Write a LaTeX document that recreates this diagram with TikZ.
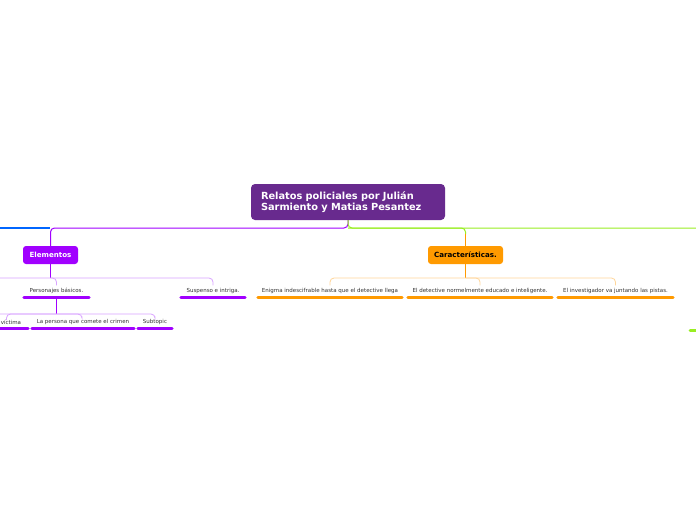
\documentclass[tikz,border=0pt]{standalone}
\usepackage{fontspec}
\setmainfont{DejaVu Sans}
\definecolor{cmain}{HTML}{682A8E}
\definecolor{cpurp}{HTML}{A100FF}
\definecolor{corange}{HTML}{FF9A00}
\definecolor{cgreen}{HTML}{99EE22}
\definecolor{cblue}{HTML}{0066FF}
\definecolor{clpurp}{HTML}{D9A3FF}
\definecolor{clorange}{HTML}{FFD699}
\definecolor{ctext}{HTML}{333333}
\begin{document}
\begin{tikzpicture}[x=1pt,y=1pt,
  topic/.style={rectangle,rounded corners=3pt,inner sep=0pt,font=\bfseries\fontsize{7.1}{8}\selectfont},
  leaf/.style={inner sep=0pt,minimum height=7pt,font=\fontsize{5.5}{6.5}\selectfont,text=ctext},
  ulp/.style={line width=3pt,line cap=round,cpurp},
  ulo/.style={line width=3pt,line cap=round,corange},
  link/.style={line width=1pt,rounded corners=4pt},
  sublink/.style={line width=0.8pt,rounded corners=4pt}]
\useasboundingbox (0,0) rectangle (696,-520);
\clip (0,0) rectangle (696,-520);
\fill[white] (0,0) rectangle (696,-520);
% central
\node[rectangle,rounded corners=4pt,fill=cmain,text=white,minimum width=194pt,minimum height=36pt,inner xsep=10pt,align=left,anchor=center,
  font=\bfseries\fontsize{9.8}{11}\selectfont,text width=174pt] (root) at (348,-202) {Relatos policiales por Julián\\Sarmiento y Matias Pesantez};
\node[topic,fill=cpurp,text=white,minimum width=55pt,minimum height=18pt] (elem) at (50.5,-255) {Elementos};
\node[topic,fill=corange,text=black,minimum width=75pt,minimum height=18pt] (car) at (465.5,-255) {Características.};
% coordinates
\coordinate (rl) at (348,-228);
\coordinate (bl0) at (-10,-228);
\coordinate (bl1) at (50,-228);
\coordinate (gr) at (710,-228);
\draw[line width=1.1pt,cblue] (bl0) -- (bl1);
\draw[link,cpurp] (root.south) |- (elem.north |- rl) -- (elem.north);
\draw[link,cgreen] (root.south) |- (gr);
\draw[link,cgreen] (rl) -| ([yshift=-6pt]car.north |- rl);
\draw[line width=1pt,corange] ([yshift=-6pt]car.north |- rl) -- (car.north);
% leaves of Elementos
\node[leaf,minimum width=65pt] (pers) at (56.5,-291) {Personajes básicos.};
\node[leaf,minimum width=64pt] (susp) at (213,-291) {Suspenso e intriga.};
\draw[ulp] ([yshift=-2.5pt]pers.south west) -- ([yshift=-2.5pt]pers.south east);
\draw[ulp] ([yshift=-2.5pt]susp.south west) -- ([yshift=-2.5pt]susp.south east);
\coordinate (e1) at (50.5,-278);
\coordinate (e0) at (-10,-278);
\draw[line width=1pt,cpurp] (elem.south) -- (e1);
\draw[sublink,clpurp] (e0) -- (e1) -| ([yshift=2pt]susp.north);
\draw[sublink,clpurp] (e1) -| ([yshift=2pt]pers.north);
% leaves of Personajes
\node[leaf,minimum width=34pt] (vic) at (11,-322) {víctima};
\node[leaf,minimum width=102pt] (crim) at (83,-322) {La persona que comete el crimen};
\node[leaf,minimum width=34pt] (sub) at (155,-322) {Subtopic};
\foreach \n in {vic,crim,sub}
  \draw[ulp] ([yshift=-2.5pt]\n.south west) -- ([yshift=-2.5pt]\n.south east);
\coordinate (p1) at (56.5,-314);
\coordinate (p0) at (-10,-314);
\coordinate (v1) at (6.5,-320);
\draw[line width=1pt,cpurp] ([yshift=-4pt]pers.south) -- (p1);
\draw[sublink,clpurp] (p0) -- (p1) -| ([yshift=2pt]sub.north);
\draw[sublink,clpurp] (p1) -| (v1);
\draw[sublink,clpurp] (p1) -| ([xshift=-1pt,yshift=2pt]crim.north);
% leaves of Caracteristicas
\node[leaf,minimum width=144pt] (enig) at (330,-291) {Enigma indescifrable hasta que el detective llega};
\node[leaf,minimum width=144pt] (det) at (480,-291) {El detective normelmente educado e inteligente.};
\node[leaf,minimum width=115pt] (inv) at (615.5,-291) {El investigador va juntando las pistas.};
\foreach \n in {enig,det,inv}
  \draw[ulo] ([yshift=-2.5pt]\n.south west) -- ([yshift=-2.5pt]\n.south east);
\coordinate (c1) at (465.5,-278);
\draw[line width=1pt,corange] (car.south) -- (c1);
\draw[sublink,clorange] (c1) -| ([yshift=2pt]enig.north);
\draw[sublink,clorange] (c1) -| ([yshift=2pt]inv.north);
\draw[sublink,clorange] (c1) -| ([yshift=2pt]det.north);
% partial green leaf at right edge
\coordinate (g0) at (690,-330);
\coordinate (g1) at (710,-330);
\draw[line width=3pt,line cap=round,cgreen] (g0) -- (g1);
\end{tikzpicture}
\end{document}
